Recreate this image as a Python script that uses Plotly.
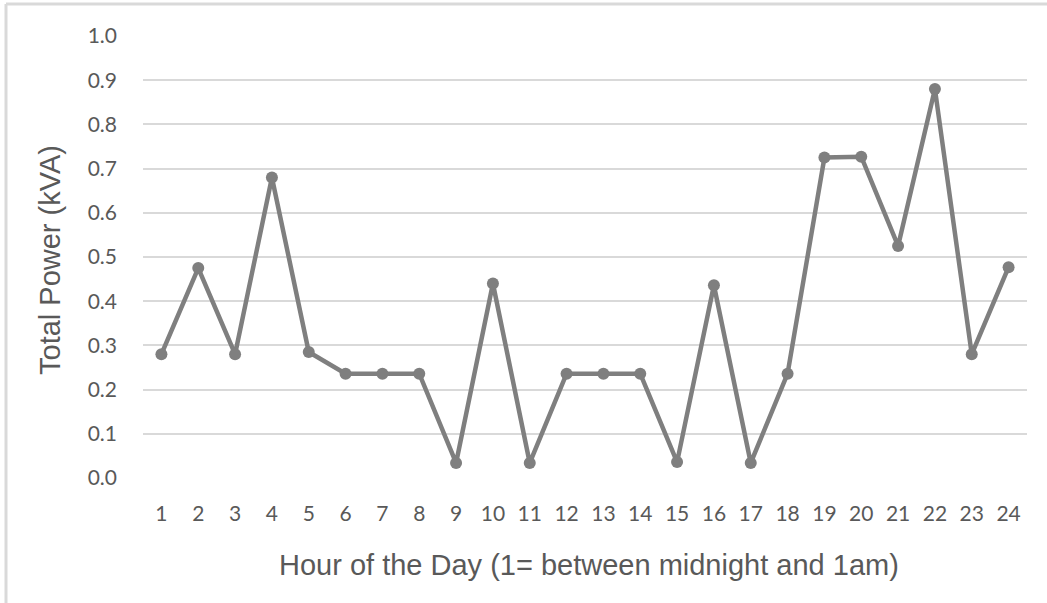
import plotly.graph_objects as go

hours = list(range(1, 25))
power_kva = [0.28, 0.475, 0.28, 0.68, 0.285, 0.236, 0.236, 0.236, 0.034, 0.44,
             0.034, 0.236, 0.236, 0.236, 0.036, 0.436, 0.034, 0.236, 0.725, 0.727,
             0.525, 0.88, 0.28, 0.477]
y_ticks = [0.0, 0.1, 0.2, 0.3, 0.4, 0.5, 0.6, 0.7, 0.8, 0.9, 1.0]
y_tick_labels = ["0.0", "0.1", "0.2", "0.3", "0.4", "0.5", "0.6", "0.7", "0.8", "0.9", "1.0"]
x_title = "Hour of the Day (1= between midnight and 1am)"
y_title = "Total Power (kVA)"

W, H = 1047, 603
L, R, T, B = 143, 20, 36, 125

fig = go.Figure()
fig.add_trace(go.Scatter(
    x=hours, y=power_kva, mode="lines+markers",
    line=dict(color="#7f7f7f", width=4.5),
    marker=dict(color="#7f7f7f", size=12),
    showlegend=False, cliponaxis=False, hoverinfo="skip",
))

tick_font = dict(family="Lato, Carlito, 'Open Sans', sans-serif", size=21, color="#595959")
title_font = dict(family="'Liberation Sans', Arial, sans-serif", size=29, color="#595959")

fig.update_layout(
    width=W, height=H,
    margin=dict(l=L, r=R, t=T, b=B),
    paper_bgcolor="white", plot_bgcolor="white",
    xaxis=dict(
        tickmode="array", tickvals=hours, ticktext=[str(h) for h in hours],
        range=[0.5, 24.5], showgrid=False, zeroline=False, showline=False,
        ticks="", tickfont=tick_font, ticklabelstandoff=21,
    ),
    yaxis=dict(
        tickmode="array", tickvals=y_ticks, ticktext=y_tick_labels,
        range=[0, 1.0], showgrid=True, gridcolor="#d9d9d9", gridwidth=2,
        zeroline=False, showline=False, ticks="", tickfont=tick_font,
        ticklabelstandoff=25,
    ),
)

pw = W - L - R
ph = H - T - B
def px(x):
    return (x - L) / pw
def py(y):
    return (H - B - y) / ph

fig.add_annotation(text=x_title, xref="paper", yref="paper",
                   x=px(589), y=py(565), xanchor="center", yanchor="middle",
                   showarrow=False, font=title_font)
fig.add_annotation(text=y_title, xref="paper", yref="paper",
                   x=px(50), y=py(260), xanchor="center", yanchor="middle",
                   textangle=-90, showarrow=False, font=title_font)

fig.add_shape(type="line", xref="paper", yref="paper",
              x0=px(6), x1=px(6), y0=py(4), y1=py(603),
              line=dict(color="#d9d9d9", width=3))
fig.add_shape(type="line", xref="paper", yref="paper",
              x0=px(6), x1=px(1047), y0=py(4), y1=py(4),
              line=dict(color="#d9d9d9", width=3))

fig.write_html("out.html", config={"displayModeBar": False},
               post_script="document.body.style.margin='0px';")
